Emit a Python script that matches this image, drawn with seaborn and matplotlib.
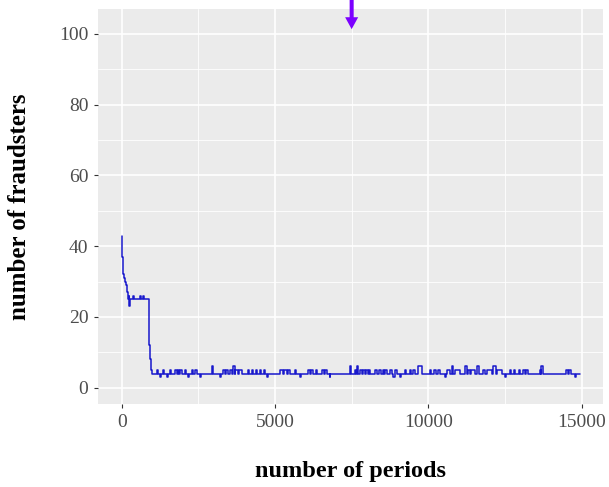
import matplotlib
matplotlib.use("Agg")
import matplotlib.pyplot as plt
from matplotlib.ticker import MultipleLocator
import seaborn as sns
import pandas as pd

# Transient phase: step change points (period, number of fraudsters)
early_periods = [0, 15, 30, 50, 80, 110, 140, 170, 200, 230, 250, 270,
                 380, 410, 600, 630, 710, 740, 900, 925, 950, 975]
early_values = [43, 37, 33, 32, 31, 30, 29, 27, 25, 26, 23, 25,
                26, 25, 26, 25, 26, 25, 12, 8, 5, 4]

# Steady phase: baseline level and the short departures from it
baseline = 4
last_period = 14940
dev_start = [1141, 1249, 1336, 1467, 1575, 1738, 1830, 1910, 2064, 2171, 2282, 2380,
             2553, 2934, 3205, 3312, 3400, 3520, 3638, 3700, 3820, 4127, 4250, 4380,
             4500, 4640, 4727, 5160, 5300, 5420, 5650, 5800, 6070, 6180, 6330, 6520,
             6640, 6780, 7443, 7605, 7680, 7760, 7880, 7980, 8060, 8257, 8400, 8520,
             8600, 8747, 8860, 8930, 9073, 9236, 9398, 9500, 9670, 10050, 10200, 10320,
             10540, 10595, 10760, 10880, 11192, 11300, 11400, 11600, 11780, 11900, 12105,
             12250, 12495, 12658, 12800, 12950, 13100, 13200, 13635, 13690, 14507, 14600,
             14778]
dev_end = [1180, 1290, 1370, 1500, 1610, 1790, 1880, 1956, 2100, 2200, 2340, 2445,
           2590, 2970, 3240, 3360, 3480, 3600, 3680, 3780, 3912, 4160, 4290, 4420,
           4540, 4680, 4760, 5250, 5380, 5490, 5690, 5840, 6130, 6240, 6370, 6600,
           6680, 6810, 7480, 7650, 7720, 7823, 7920, 8020, 8095, 8320, 8450, 8560,
           8639, 8800, 8900, 8965, 9110, 9270, 9450, 9561, 9780, 10100, 10250, 10377,
           10580, 10700, 10820, 11029, 11260, 11355, 11518, 11640, 11850, 12062, 12200,
           12388, 12530, 12700, 12840, 12990, 13140, 13245, 13680, 13733, 14560, 14670,
           14810]
dev_value = [5, 3, 5, 3, 5, 5, 5, 5, 5, 3, 5, 5,
             3, 6, 3, 5, 5, 5, 6, 5, 5, 5, 5, 5,
             5, 5, 3, 5, 5, 5, 5, 3, 5, 5, 5, 5,
             5, 3, 6, 5, 6, 5, 5, 5, 5, 5, 5, 5,
             5, 5, 3, 5, 3, 5, 5, 5, 6, 5, 5, 5,
             3, 5, 6, 5, 6, 5, 5, 6, 5, 5, 6,
             5, 3, 5, 5, 5, 5, 5, 5, 6, 5, 5,
             3]

periods = list(early_periods)
values = list(early_values)
for s, e, v in zip(dev_start, dev_end, dev_value):
    periods += [s, e]
    values += [v, baseline]
periods.append(last_period)
values.append(baseline)
df = pd.DataFrame({"period": periods, "fraudsters": values})

sns.set_theme(style="darkgrid")
plt.rcParams["font.family"] = ["Liberation Serif", "DejaVu Serif"]

W, H = 609, 487
fig = plt.figure(figsize=(W / 100, H / 100), dpi=100)
ax = fig.add_axes([98 / W, 1 - 404 / H, (603 - 98) / W, (404 - 9) / H])
ax.set_facecolor("#EBEBEB")

sns.lineplot(data=df, x="period", y="fraudsters", drawstyle="steps-post",
             estimator=None, color="#1818CC", linewidth=1.1, ax=ax)

ax.set_xlim(-773, 15698)
ax.set_ylim(-4.6, 107)
ax.xaxis.set_major_locator(MultipleLocator(5000))
ax.xaxis.set_minor_locator(MultipleLocator(2500))
ax.yaxis.set_major_locator(MultipleLocator(20))
ax.yaxis.set_minor_locator(MultipleLocator(10))
ax.grid(which="major", color="white", linewidth=1.2)
ax.grid(which="minor", color="white", linewidth=0.6)
ax.set_axisbelow(True)
for sp in ax.spines.values():
    sp.set_visible(False)

ax.tick_params(axis="both", which="major", length=3, width=0.8, color="#333333",
               labelsize=14, labelcolor="#4D4D4D", pad=4, direction="out")
ax.tick_params(axis="both", which="minor", length=0)
ax.tick_params(axis="x", bottom=True)
ax.tick_params(axis="y", left=True)

ax.set_xlabel("number of periods", fontsize=17.5, fontweight="bold",
              color="black", labelpad=22)
ax.set_ylabel("number of fraudsters", fontsize=18, fontweight="bold",
              color="black", labelpad=20)

# Marker arrow pointing at the mid-run period
ax.annotate("", xy=(7500, 101.3), xytext=(7500, 110),
            xycoords="data", textcoords="data", annotation_clip=False,
            arrowprops=dict(arrowstyle="simple,head_length=0.86,head_width=0.94,tail_width=0.29",
                            mutation_scale=10, lw=0, color="#7B00FF",
                            shrinkA=0, shrinkB=0))

fig.savefig("out.png", dpi=100, facecolor="white")
